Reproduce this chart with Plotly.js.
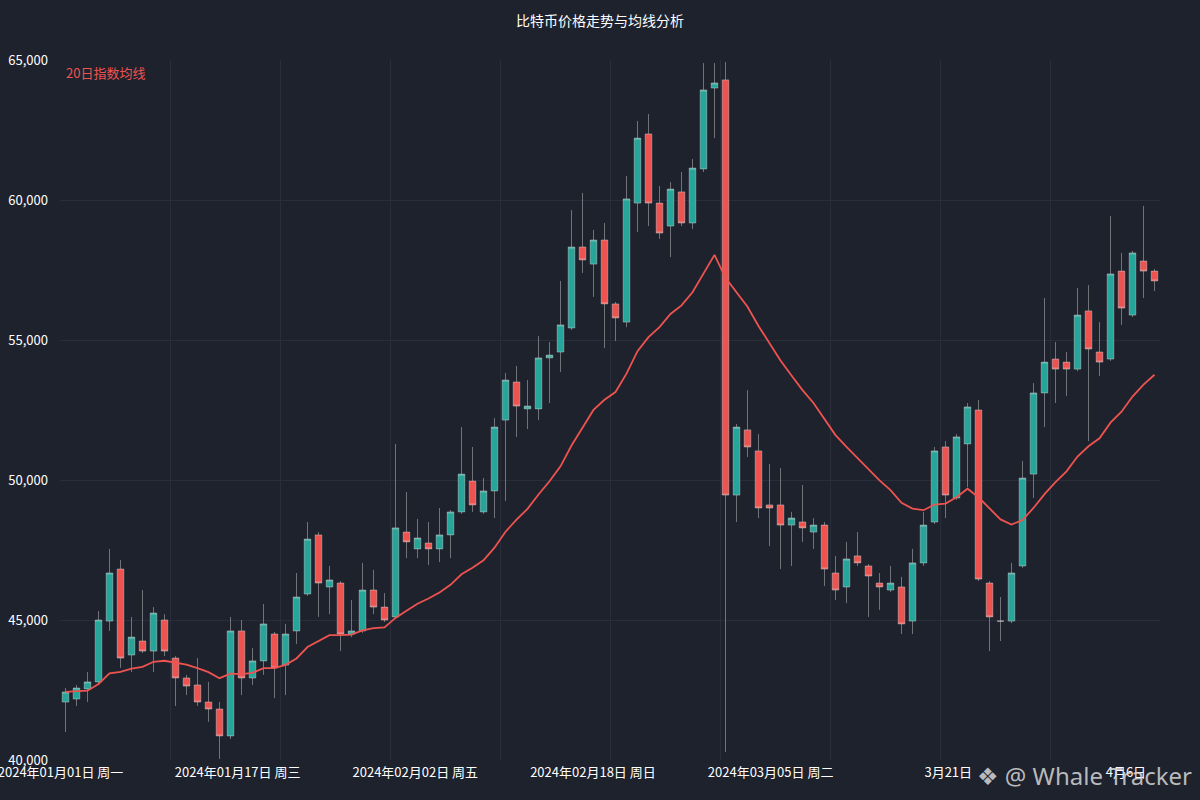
<!DOCTYPE html>
<html>
<head>
<meta charset="utf-8">
<script src="https://cdn.plot.ly/plotly-3.0.1.min.js"></script>
<style>
  html, body { margin: 0; padding: 0; background: #1e222d; }
  #chart { width: 1200px; height: 800px; }
</style>
</head>
<body>
<div id="chart"></div>
<script>
// daily candles (price units)
const opens = [42070,42180,42540,42790,44960,46820,43750,44250,43890,45000,
  43640,42930,42680,42070,41820,40860,44610,42930,43540,44500,
  43390,44610,45930,48040,46180,46320,44500,44610,46070,45460,
  45110,48140,47540,47750,47540,48040,48860,49960,48860,49610,
  52140,53500,52540,52540,54360,54570,55430,58320,57710,58570,
  56290,55640,59890,62360,59890,59070,60290,59180,61110,64000,
  64290,49460,51790,51040,49110,49110,48390,48500,48140,48390,
  46680,46180,47290,46930,46320,46070,46180,44960,47040,48500,
  51180,49360,51290,52500,46320,44960,44960,46930,50210,53110,
  54320,54210,53960,56040,54570,54320,57460,55890,57820,57460];

const closes = [42430,42570,42790,45000,46680,43640,44390,43890,45250,43890,
  42930,42640,42070,41820,40860,44610,42930,43540,44860,43290,
  44500,45820,47890,46320,46430,44500,44610,46070,45460,45000,
  48290,47790,47930,47540,48040,48860,50210,49110,49610,51890,
  53570,52640,52640,54360,54460,55540,58320,57860,58570,56290,
  55790,60040,62210,59890,58820,60390,59180,61140,63930,64180,
  49460,51890,51180,49000,49000,48390,48640,48290,48390,46820,
  46070,47180,47040,46570,46180,46320,44860,47040,48390,51040,
  49460,51540,52610,46460,45110,44960,46680,50070,53110,54210,
  53960,53960,55890,54680,54210,57360,56140,58110,57460,57110];

const highs = [42570,42680,43140,45320,47540,47140,45110,46070,45460,45210,
  43710,43040,43640,42790,42070,45110,45000,44000,45570,44570,
  44860,46680,48500,48140,46930,46390,45710,47040,46790,45960,
  51290,49570,48610,48500,49000,48930,51890,51180,50070,52210,
  53820,54070,53570,55140,54930,57110,59640,60250,58930,59180,
  56360,60860,62820,63070,60500,60640,61000,61460,64890,64890,
  64930,52000,53210,51640,50570,50430,48860,49820,48640,48500,
  47290,47790,48140,47000,46680,46930,46540,47540,48860,51180,
  51390,51640,52750,52860,46390,45820,47040,50680,53460,56500,
  54930,54570,56860,56960,55640,59430,58110,58180,59790,57540];

const lows = [41000,41930,42070,42710,44610,43290,43140,43820,43140,43710,
  41930,42320,41930,41360,40040,40750,42320,42680,43040,42210,
  42320,44140,45860,45110,45210,43890,44390,44540,45210,44930,
  45040,47210,47210,46960,47070,47210,48790,48860,48790,48640,
  49250,51540,51820,52140,52750,53860,55360,57390,56540,54710,
  54960,55460,58860,59070,58610,57960,59070,58960,61000,62210,
  40290,48500,50820,48640,47640,46820,46930,47790,47540,46210,
  45710,45610,46930,45110,45360,46000,44500,44500,46930,48430,
  48640,49290,49750,46390,43890,44250,44890,46860,49360,51890,
  52750,53000,53890,51390,53710,54250,55540,55820,56500,56750];

// label positions on the candle index axis, as seen in the reference
const tickPositions = [-0.45, 15.65, 31.8, 47.95, 64.1, 80.25, 96.4];
const tickLabels = ["2024年01月01日 周一", "2024年01月17日 周三", "2024年02月02日 周五",
                    "2024年02月18日 周日", "2024年03月05日 周二", "3月21日", "4月6日"];

const titleText = "比特币价格走势与均线分析";
const emaLabel = "20日指数均线";

const days = closes.map((_, i) => i);

function ema(values, span) {
    const a = 2 / (span + 1);
    const out = [];
    values.forEach((v, i) => {
        out.push(i === 0 ? v : a * v + (1 - a) * out[i - 1]);
    });
    return out;
}

const font = "Noto Sans CJK SC, Noto Sans, sans-serif";
const gridColor = "#2a2e3b";
const candleLine = "rgba(215,215,215,0.45)";

const traceCandles = {
    type: "candlestick",
    x: days,
    open: opens,
    high: highs,
    low: lows,
    close: closes,
    increasing: { fillcolor: "#26a69a", line: { color: candleLine, width: 1 } },
    decreasing: { fillcolor: "#ef5350", line: { color: candleLine, width: 1 } },
    whiskerwidth: 0,
    hoverinfo: "skip",
    showlegend: false
};

const traceEma = {
    type: "scatter",
    mode: "lines",
    x: days,
    y: ema(closes, 20),
    line: { color: "#ef5350", width: 1.8 },
    hoverinfo: "skip",
    showlegend: false
};

const layout = {
    width: 1200,
    height: 800,
    margin: { l: 60, r: 40, t: 60, b: 40 },
    paper_bgcolor: "#1e222d",
    plot_bgcolor: "#1e222d",
    font: { family: font, color: "#ffffff", size: 13 },
    boxgap: 0.15,
    title: {
        text: titleText,
        x: 0.5,
        y: 1 - 21 / 800,
        yanchor: "middle",
        font: { family: font, size: 14, color: "#ffffff" }
    },
    xaxis: {
        range: [-0.5, 99.5],
        tickmode: "array",
        tickvals: tickPositions,
        ticktext: tickLabels,
        ticklabeloverflow: "allow",
        showgrid: false,
        zeroline: false,
        showline: false,
        ticks: "",
        ticklabelstandoff: 3,
        tickfont: { size: 13, color: "#ffffff" },
        minor: { tickmode: "linear", tick0: -0.5, dtick: 10, showgrid: true, gridcolor: gridColor, gridwidth: 1, ticks: "" },
        rangeslider: { visible: false }
    },
    yaxis: {
        range: [40000, 65000],
        tickmode: "linear",
        tick0: 40000,
        dtick: 5000,
        tickformat: ",",
        showgrid: true,
        gridcolor: gridColor,
        zeroline: false,
        showline: false,
        ticks: "",
        ticklabelstandoff: 11,
        tickfont: { size: 13, color: "#ffffff" }
    },
    annotations: [
        {
            text: emaLabel,
            xref: "paper", yref: "paper",
            x: 0, y: 1,
            xanchor: "left", yanchor: "top",
            xshift: 4, yshift: -1,
            showarrow: false,
            font: { family: font, size: 13, color: "#ef5350" }
        },
        {
            text: "❖ @ Whale Tracker",
            xref: "paper", yref: "paper",
            x: 1, y: 0,
            xanchor: "right", yanchor: "middle",
            xshift: 34, yshift: -15,
            showarrow: false,
            font: { family: "Noto Sans, DejaVu Sans, sans-serif", size: 24, color: "rgba(215,215,215,0.85)" }
        }
    ],
    showlegend: false
};

Plotly.newPlot("chart", [traceCandles, traceEma], layout, { displayModeBar: false, staticPlot: true });
</script>
</body>
</html>
